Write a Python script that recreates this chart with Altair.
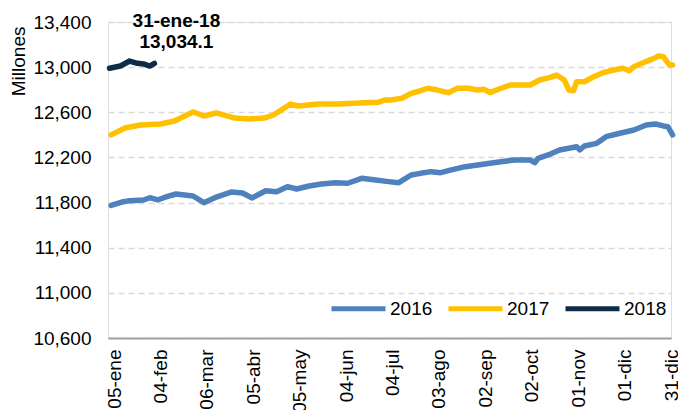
import altair as alt
import pandas as pd

FONT = "Liberation Sans, Arial, sans-serif"
FS = 19

# x = days since 05-ene (2017 calendar spacing, 30-day ticks)
tick_days = [0, 30, 60, 90, 120, 150, 180, 210, 240, 270, 300, 330, 360]
tick_labels = ["05-ene", "04-feb", "06-mar", "05-abr", "05-may", "04-jun", "04-jul",
               "03-ago", "02-sep", "02-oct", "01-nov", "01-dic", "31-dic"]
y_ticks = [10600, 11000, 11400, 11800, 12200, 12600, 13000, 13400]

days_2016 = [-2, 6, 10, 19, 23, 28, 34, 40, 51, 58, 66, 76, 83, 89, 98, 105, 112, 118, 126,
             134, 143, 151, 160, 169, 176, 184, 192, 198, 205, 211, 218, 227, 235, 243, 250,
             259, 269, 272, 274, 282, 288, 299, 301, 304, 312, 318, 327, 336, 344, 350, 355,
             358, 361]
vals_2016 = [11775, 11808, 11817, 11823, 11843, 11823, 11852, 11876, 11858, 11799, 11849,
             11894, 11885, 11841, 11905, 11896, 11941, 11920, 11947, 11965, 11976, 11971,
             12015, 12000, 11988, 11976, 12044, 12059, 12074, 12065, 12089, 12118, 12133,
             12148, 12162, 12177, 12177, 12153, 12192, 12230, 12266, 12295, 12266, 12301,
             12325, 12384, 12414, 12443, 12487, 12496, 12479, 12472, 12399]

days_2017 = [-2, 7, 17, 30, 39, 51, 58, 66, 78, 87, 97, 103, 110, 114, 119, 132, 145, 158,
             171, 175, 179, 186, 192, 198, 203, 209, 216, 222, 229, 235, 239, 243, 250, 256,
             263, 269, 275, 282, 286, 291, 294, 297, 299, 304, 310, 316, 323, 329, 333, 336,
             342, 349, 352, 355, 359, 361]
vals_2017 = [12400, 12461, 12487, 12496, 12523, 12603, 12567, 12594, 12549, 12541, 12549,
             12576, 12638, 12673, 12656, 12673, 12673, 12682, 12690, 12709, 12709, 12724,
             12768, 12791, 12813, 12797, 12774, 12813, 12813, 12797, 12804, 12774, 12813,
             12842, 12842, 12842, 12886, 12910, 12930, 12886, 12797, 12791, 12871, 12871,
             12915, 12951, 12975, 12990, 12968, 13004, 13039, 13078, 13100, 13093, 13019,
             13019]

days_2018 = [-3, 4, 10, 15, 19, 23, 26]
vals_2018 = [12990, 13010, 13054, 13034, 13028, 13010, 13034.1]

series = ["2016", "2017", "2018"]
colors = ["#4f81bd", "#ffc000", "#0e2c47"]

annot_date = "31-ene-18"
annot_value = "13,034.1"

rows = []
for name, ds, vs in [("2016", days_2016, vals_2016), ("2017", days_2017, vals_2017),
                     ("2018", days_2018, vals_2018)]:
    for d, v in zip(ds, vs):
        rows.append({"serie": name, "dia": d, "valor": v})
df = pd.DataFrame(rows)

label_js = "[" + ",".join("'" + t + "'" for t in tick_labels) + "]"

x_enc = alt.X("dia:Q",
              scale=alt.Scale(domain=[-4, 360], nice=False, zero=False),
              axis=alt.Axis(values=tick_days, labelExpr=label_js + "[round(datum.value/30)]",
                            labelAngle=-90, labelPadding=11, grid=False, ticks=False,
                            domainColor="#a0a0a0", domainWidth=2, title=None,
                            labelFontSize=FS, labelColor="#000000", labelFont=FONT))
y_enc = alt.Y("valor:Q",
              scale=alt.Scale(domain=[10600, 13400], nice=False, zero=False),
              axis=alt.Axis(values=y_ticks, format=",.0f", grid=True, gridColor="#d9d9d9",
                            gridDash=[6, 4], gridWidth=1.5, domain=False, ticks=False,
                            labelPadding=17, labelFontSize=FS, labelColor="#000000",
                            labelFont=FONT, title="Millones",
                            titleX=-90, titleY=4, titleAngle=-90, titleAlign="right",
                            titleBaseline="middle",
                            titleFontSize=FS, titleFontWeight="normal", titleFont=FONT,
                            titleColor="#000000"))

lines = alt.Chart(df).mark_line(strokeWidth=5.5, strokeCap="round", strokeJoin="round").encode(
    x=x_enc,
    y=y_enc,
    color=alt.Color("serie:N",
                    scale=alt.Scale(domain=series, range=colors),
                    legend=alt.Legend(title=None, orient="none", legendX=221, legendY=257,
                                      direction="horizontal", symbolType="stroke",
                                      symbolStrokeWidth=5, symbolSize=2916,
                                      labelFontSize=FS, labelFont=FONT, labelColor="#000000",
                                      labelOffset=2, columnPadding=5)),
    detail="serie:N",
)

last = pd.DataFrame({"dia": [days_2018[-1]], "valor": [vals_2018[-1]],
                     "t1": [annot_date], "t2": [annot_value]})
t1 = alt.Chart(last).mark_text(font=FONT, fontSize=FS, fontWeight="bold", dx=22, dy=-36,
                               align="center", baseline="alphabetic", color="#000000").encode(
    x="dia:Q", y="valor:Q", text="t1:N")
t2 = alt.Chart(last).mark_text(font=FONT, fontSize=FS, fontWeight="bold", dx=22, dy=-15,
                               align="center", baseline="alphabetic", color="#000000").encode(
    x="dia:Q", y="valor:Q", text="t2:N")

chart = (lines + t1 + t2).properties(
    width=563, height=316,
    autosize=alt.AutoSizeParams(type="none"),
    padding={"left": 100, "top": 14, "right": 7, "bottom": 72},
).configure_view(stroke=None).configure(background="white")

chart.save("out.html", embed_options={"renderer": "svg", "actions": False})
